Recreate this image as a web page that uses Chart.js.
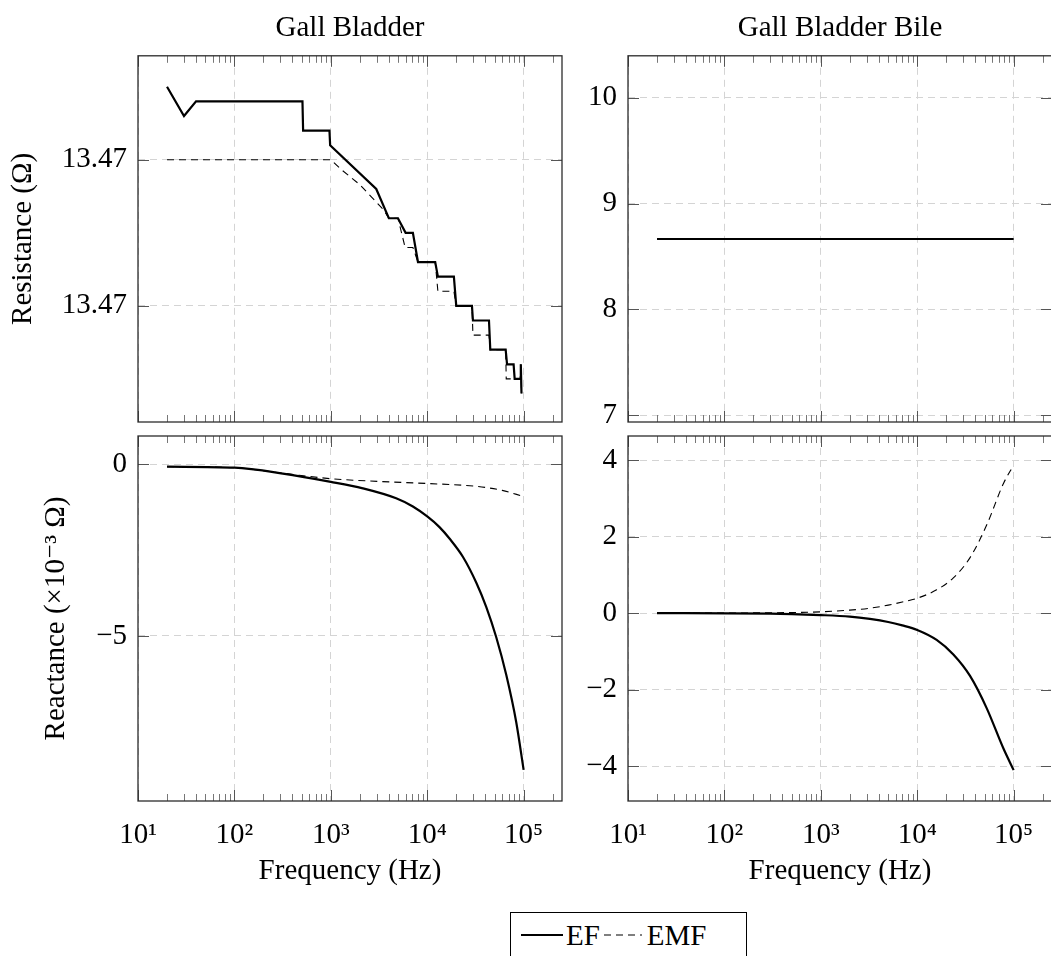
<!DOCTYPE html>
<html>
<head>
<meta charset="utf-8">
<script src="https://cdn.jsdelivr.net/npm/chart.js@4.4.1/dist/chart.umd.min.js"></script>
<style>
    html, body { margin: 0; padding: 0; background: #fff; overflow: hidden; width: 1051px; height: 956px; }
    .painel { position: absolute; }
    #legenda {
        position: absolute; left: 510px; top: 912px; width: 237px; height: 60px;
        border: 1px solid #000; box-sizing: border-box;
        font-family: 'Liberation Serif', 'DejaVu Serif', serif; font-size: 29px; color: #000;
        display: flex; align-items: flex-start; padding-top: 6px; padding-left: 9px; white-space: nowrap;
    }
    #legenda svg { margin-top: 13px; }
</style>
</head>
<body>
<div class="painel" style="left:0px;top:0px"><canvas id="gTL" width="570" height="430"></canvas></div>
<div class="painel" style="left:570px;top:0px"><canvas id="gTR" width="490" height="430"></canvas></div>
<div class="painel" style="left:0px;top:430px"><canvas id="gBL" width="570" height="470"></canvas></div>
<div class="painel" style="left:570px;top:430px"><canvas id="gBR" width="490" height="470"></canvas></div>
<div id="legenda">
    <svg width="44" height="6"><line x1="1" y1="3" x2="43" y2="3" stroke="#000" stroke-width="2.2"/></svg>
    <span style="margin-left:2px">EF</span>
    <svg width="40" height="6" style="margin-left:3px"><line x1="1" y1="3" x2="39" y2="3" stroke="#000" stroke-width="1.1" stroke-dasharray="7,5"/></svg>
    <span style="margin-left:4px">EMF</span>
</div>
<script>
const fonte = "'Liberation Serif', 'DejaVu Serif', serif";

// --- eixo x (frequência, log) ---
const xMaiores = [10, 100, 1000, 10000, 100000];
const xRotulos = ['10¹', '10²', '10³', '10⁴', '10⁵'];
const xMin = 10, xMax = 250000;

// --- Gall Bladder: resistência (Ω) ---
const resTicksGB = [13.470, 13.471];
const resRotulosGB = ['13.47', '13.47'];
const freqResEF_GB = [20, 30, 40, 508, 516, 968, 984, 2960, 4000, 4970, 5970, 7100, 8020, 12100, 12900, 18900, 20000, 29100, 29800, 43700, 45100, 65100, 67300, 78700, 80700, 92000, 93500, 95000];
const resEF_GB = [13.4715, 13.4713, 13.4714, 13.4714, 13.4712, 13.4712, 13.4711, 13.4708, 13.4706, 13.4706, 13.4705, 13.4705, 13.4703, 13.4703, 13.4702, 13.4702, 13.4700, 13.4700, 13.4699, 13.4699, 13.4697, 13.4697, 13.4696, 13.4696, 13.4695, 13.4695, 13.4696, 13.4694];
const freqResEMF_GB = [20, 1000, 1300, 2000, 3500, 4000, 4970, 5900, 7100, 8020, 12100, 12900, 18900, 20000, 29100, 29800, 43700, 45100, 65100, 66000, 92000, 93500, 95000];
const resEMF_GB = [13.4710, 13.4710, 13.47093, 13.47083, 13.47066, 13.4706, 13.4706, 13.4704, 13.4704, 13.4703, 13.4703, 13.4701, 13.4701, 13.4700, 13.4700, 13.4698, 13.4698, 13.4697, 13.4697, 13.4695, 13.4695, 13.4696, 13.4694];

// --- Gall Bladder Bile: resistência (Ω) ---
const resTicksGBB = [7, 8, 9, 10];
const resRotulosGBB = ['7', '8', '9', '10'];
const freqResGBB = [20, 100000];
const resEF_GBB = [8.665, 8.665];
const resEMF_GBB = [8.665, 8.665];

// --- Gall Bladder: reatância (x10^-3 Ω) ---
const reaTicksGB = [-5, 0];
const reaRotulosGB = ['−5', '0'];
const freqReaEF_GB = [20, 100, 318, 1000, 2150, 4760, 7100, 10000, 13400, 17100, 23500, 32300, 41000, 52000, 66100, 83900, 100000];
const reaEF_GB = [-0.07, -0.10, -0.27, -0.51, -0.70, -0.99, -1.23, -1.52, -1.83, -2.17, -2.70, -3.45, -4.16, -5.04, -6.14, -7.52, -8.90];
const freqReaEMF_GB = [20, 100, 318, 1000, 3200, 10000, 31600, 60000, 100000];
const reaEMF_GB = [-0.07, -0.10, -0.26, -0.42, -0.50, -0.56, -0.64, -0.76, -0.94];

// --- Gall Bladder Bile: reatância (x10^-3 Ω) ---
const reaTicksGBB = [-4, -2, 0, 2, 4];
const reaRotulosGBB = ['−4', '−2', '0', '2', '4'];
const freqReaGBB = [20, 300, 1000, 2000, 3230, 5000, 7000, 10000, 15900, 23700, 35300, 52500, 78200, 100000];
const reaEF_GBB = [0, -0.01, -0.05, -0.09, -0.15, -0.23, -0.32, -0.44, -0.70, -1.08, -1.64, -2.48, -3.53, -4.10];
const reaEMF_GBB = [0, 0.01, 0.035, 0.08, 0.13, 0.21, 0.29, 0.39, 0.61, 0.92, 1.45, 2.30, 3.38, 3.87];

// ticks menores do eixo log (2..9 x 10^k)
const xMenores = [];
for (let k = 10; k <= 100000; k *= 10) {
    for (let m = 2; m <= 9; m++) xMenores.push(m * k);
}

const pontos = (xs, ys) => xs.map((f, i) => ({ x: f, y: ys[i] }));

// Moldura + marcas de tick para dentro (estilo pgfplots)
const moldura = {
    id: 'moldura',
    afterDraw(chart) {
        const { ctx, chartArea: a } = chart;
        const sx = chart.scales.x, sy = chart.scales.y;
        ctx.save();
        ctx.setLineDash([]);
        ctx.beginPath();
        xMenores.forEach(v => {
            const px = Math.round(sx.getPixelForValue(v)) + 0.5;
            if (px <= a.left || px >= a.right) return;
            ctx.moveTo(px, a.top); ctx.lineTo(px, a.top + 7);
            ctx.moveTo(px, a.bottom); ctx.lineTo(px, a.bottom - 7);
        });
        ctx.strokeStyle = '#777';
        ctx.lineWidth = 1;
        ctx.stroke();

        ctx.beginPath();
        xMaiores.forEach(v => {
            const px = Math.round(sx.getPixelForValue(v)) + 0.5;
            ctx.moveTo(px, a.top); ctx.lineTo(px, a.top + 11);
            ctx.moveTo(px, a.bottom); ctx.lineTo(px, a.bottom - 11);
        });
        sy.ticks.forEach(t => {
            const py = Math.round(sy.getPixelForValue(t.value)) + 0.5;
            ctx.moveTo(a.left, py); ctx.lineTo(a.left + 11, py);
            ctx.moveTo(a.right, py); ctx.lineTo(a.right - 11, py);
        });
        ctx.strokeStyle = '#555';
        ctx.stroke();

        ctx.strokeStyle = '#2b2b2b';
        ctx.lineWidth = 1.3;
        ctx.strokeRect(a.left, a.top, a.right - a.left, a.bottom - a.top);
        ctx.restore();
    }
};

function criarGrafico(id, cfg) {
    const escalonado = cfg.escalonado;
    new Chart(document.getElementById(id), {
        type: 'line',
        data: {
            datasets: [{
                label: 'EF',
                data: pontos(cfg.fEF, cfg.vEF),
                borderColor: '#000',
                borderWidth: 2.2,
                pointRadius: 0,
                tension: 0,
                cubicInterpolationMode: escalonado ? 'default' : 'monotone'
            }, {
                label: 'EMF',
                data: pontos(cfg.fEMF, cfg.vEMF),
                borderColor: '#000',
                borderWidth: 1.1,
                borderDash: [7, 5],
                pointRadius: 0,
                tension: 0,
                cubicInterpolationMode: escalonado ? 'default' : 'monotone'
            }]
        },
        options: {
            responsive: false,
            animation: false,
            layout: { padding: cfg.padding },
            plugins: {
                legend: { display: false },
                tooltip: { enabled: false },
                title: {
                    display: !!cfg.titulo,
                    text: cfg.titulo,
                    fullSize: false,
                    color: '#000',
                    font: { family: fonte, size: 29, weight: 'normal' },
                    padding: { top: 11, bottom: 10 }
                }
            },
            scales: {
                x: {
                    type: 'logarithmic',
                    min: xMin,
                    max: xMax,
                    afterBuildTicks: s => { s.ticks = xMaiores.map(v => ({ value: v })); },
                    afterFit: s => { s.height = cfg.alturaX; s.paddingLeft = 0; s.paddingRight = 0; },
                    grid: { color: '#d4d4d4', lineWidth: 1, drawTicks: false },
                    border: { display: false, dash: [7, 5] },
                    ticks: {
                        display: cfg.mostrarX,
                        autoSkip: false,
                        maxRotation: 0,
                        padding: 17,
                        color: '#000',
                        font: { family: fonte, size: 29 },
                        callback: (v, i) => xRotulos[i]
                    },
                    title: {
                        display: cfg.mostrarX,
                        text: 'Frequency (Hz)',
                        color: '#000',
                        font: { family: fonte, size: 29 },
                        padding: { top: 0, bottom: 11 }
                    }
                },
                y: {
                    min: cfg.yMin,
                    max: cfg.yMax,
                    afterBuildTicks: s => { s.ticks = cfg.yTicks.map(v => ({ value: v })); },
                    afterFit: s => { s.width = cfg.larguraY; s.paddingTop = 0; s.paddingBottom = 0; },
                    grid: { color: '#d4d4d4', lineWidth: 1, drawTicks: false },
                    border: { display: false, dash: [7, 5] },
                    ticks: {
                        padding: 11,
                        color: '#000',
                        font: { family: fonte, size: 29 },
                        callback: (v, i) => cfg.yRotulos[i]
                    },
                    title: {
                        display: !!cfg.tituloY,
                        text: cfg.tituloY,
                        color: '#000',
                        font: { family: fonte, size: 29 },
                        padding: { top: cfg.offsetTituloY || 0, bottom: 0 }
                    }
                }
            }
        },
        plugins: [moldura]
    });
}

// --- GRÁFICO 1: Gall Bladder / resistência ---
criarGrafico('gTL', {
    titulo: 'Gall Bladder', tituloY: 'Resistance (Ω)', offsetTituloY: 6,
    escalonado: true,
    fEF: freqResEF_GB, vEF: resEF_GB, fEMF: freqResEMF_GB, vEMF: resEMF_GB,
    yMin: 13.469205, yMax: 13.471712, yTicks: resTicksGB, yRotulos: resRotulosGB,
    larguraY: 138, alturaX: 0, mostrarX: false,
    padding: { top: 0, right: 8, bottom: 8, left: 0 }
});

// --- GRÁFICO 2: Gall Bladder Bile / resistência ---
criarGrafico('gTR', {
    titulo: 'Gall Bladder Bile',
    escalonado: true,
    fEF: freqResGBB, vEF: resEF_GBB, fEMF: freqResGBB, vEMF: resEMF_GBB,
    yMin: 6.936, yMax: 10.396, yTicks: resTicksGBB, yRotulos: resRotulosGBB,
    larguraY: 58, alturaX: 0, mostrarX: false,
    padding: { top: 0, right: 8, bottom: 8, left: 0 }
});

// --- GRÁFICO 3: Gall Bladder / reatância ---
criarGrafico('gBL', {
    tituloY: 'Reactance (×10⁻³ Ω)', offsetTituloY: 39,
    escalonado: false,
    fEF: freqReaEF_GB, vEF: reaEF_GB, fEMF: freqReaEMF_GB, vEMF: reaEMF_GB,
    yMin: -9.808, yMax: 0.824, yTicks: reaTicksGB, yRotulos: reaRotulosGB,
    larguraY: 138, alturaX: 99, mostrarX: true,
    padding: { top: 6, right: 8, bottom: 0, left: 0 }
});

// --- GRÁFICO 4: Gall Bladder Bile / reatância ---
criarGrafico('gBR', {
    escalonado: false,
    fEF: freqReaGBB, vEF: reaEF_GBB, fEMF: freqReaGBB, vEMF: reaEMF_GBB,
    yMin: -4.906, yMax: 4.627, yTicks: reaTicksGBB, yRotulos: reaRotulosGBB,
    larguraY: 58, alturaX: 99, mostrarX: true,
    padding: { top: 6, right: 8, bottom: 0, left: 0 }
});
</script>
</body>
</html>
